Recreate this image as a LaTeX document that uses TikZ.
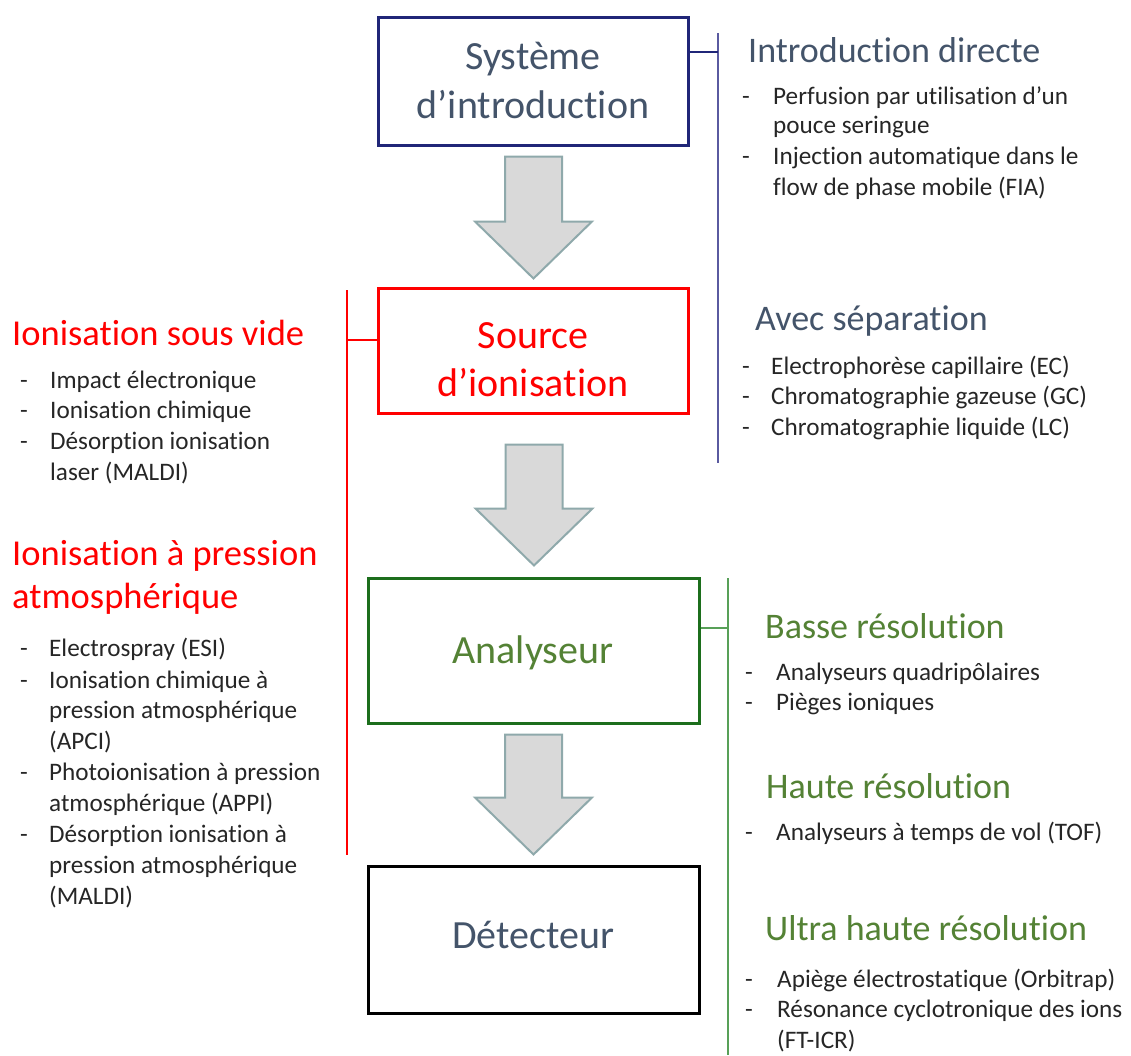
\documentclass[tikz,border=0pt]{standalone}
\usepackage{fontspec}
\setmainfont[RawFeature={-liga;-clig;-calt;-dlig}]{Carlito}
\usetikzlibrary{calc}
\definecolor{navyc}{HTML}{202678}
\definecolor{bluel}{HTML}{5A5AA0}
\definecolor{slate}{HTML}{44546A}
\definecolor{redc}{HTML}{FF0000}
\definecolor{greenbox}{HTML}{1C6E1C}
\definecolor{greent}{HTML}{548235}
\definecolor{greenl}{HTML}{58A058}
\definecolor{bulletc}{HTML}{262626}
\definecolor{arrfill}{HTML}{D9D9D9}
\definecolor{arrdraw}{HTML}{8FA9AB}
\newcommand\blockarrow[2]{%
  \draw[blk] let \p1=(#1), \p2=(#2) in
    (\x2-28.5pt,\y1) -- (\x2+28.5pt,\y1) -- (\x2+28.5pt,\y2+57pt) --
    (\x2+58.5pt,\y2+57pt) -- (\x2,\y2) -- (\x2-58.5pt,\y2+57pt) --
    (\x2-28.5pt,\y2+57pt) -- cycle;}
\begin{document}
\begin{tikzpicture}[x=1pt,y=-1pt,
  stagebox/.style={draw, line width=3pt, inner sep=0pt},
  bxt/.style={font=\fontsize{40}{48}\selectfont, text=slate, anchor=base, inner sep=0pt},
  bt/.style={font=\fontsize{25.2}{30}\selectfont, text=bulletc, anchor=base west, inner sep=0pt},
  hdr/.style={font=\fontsize{36}{43}\selectfont, anchor=base west, inner sep=0pt},
  hdl/.style={font=\fontsize{36.5}{44}\selectfont, text=redc, anchor=base west, inner sep=0pt},
  blk/.style={fill=arrfill, draw=arrdraw, line width=2pt, line join=miter},
  brk/.style={line width=1.5pt}]
\useasboundingbox (0,0) rectangle (1131,1055);

% stage boxes
\node[stagebox, draw=navyc, minimum width=310pt, minimum height=128pt] (sys) at (533,81) {};
\node[stagebox, draw=redc, minimum width=310pt, minimum height=125pt] (src) at (533,350.5) {};
\node[stagebox, draw=greenbox, minimum width=331pt, minimum height=145pt] (ana) at (533.5,650.5) {};
\node[stagebox, draw=black, minimum width=331pt, minimum height=147pt] (det) at (533.5,939.5) {};

\node[bxt] (sysa) at (533,69) {Système};
\node[bxt] (sysb) at (533,118) {d’introduction};
\node[bxt, text=redc] (srca) at (533,348) {Source};
\node[bxt, text=redc] (srcb) at (533,396) {d’ionisation};
\node[bxt, text=greent] (anat) at (533,663) {Analyseur};
\node[bxt] (dett) at (533,948) {Détecteur};

% block arrows
\coordinate (a1t) at ($(sys.south)+(0.5,10)$);
\coordinate (a1h) at ($(src.north)+(0.5,-8)$);
\coordinate (a2t) at ($(src.south)+(0.5,30)$);
\coordinate (a2h) at ($(ana.north)+(0.5,-11)$);
\coordinate (a3t) at ($(ana.south)+(0,10)$);
\coordinate (a3h) at ($(det.north)+(0,-10)$);
\blockarrow{a1t}{a1h}
\blockarrow{a2t}{a2h}
\blockarrow{a3t}{a3h}

% brackets
\coordinate (bluetop) at (718,33);
\coordinate (bluebot) at (718,463);
\coordinate (bluetick) at (718,52);
\draw[brk, bluel] (bluetop) -- (bluebot);
\draw[brk, navyc] (bluetick -| sys.east) -- (bluetick);

\coordinate (redtop) at (347,290);
\coordinate (redbot) at (347,855);
\coordinate (redtick) at (347,340);
\draw[line width=2pt, redc] (redtop) -- (redbot);
\draw[line width=2pt, redc] (redtick) -- (redtick -| src.west);

\coordinate (grtop) at (728,578);
\coordinate (grbot) at (728,1055);
\coordinate (grtick) at (728,628);
\draw[brk, greenl] (grtop) -- (grbot);
\draw[brk, greenl] (grtick -| ana.east) -- (grtick);

% right top texts
\node[hdr, text=slate] (h1) at (748,62) {Introduction directe};
\node[bt] (d1) at (742,104) {-};
\node[bt] (t1) at (773,104) {Perfusion par utilisation d’un};
\node[bt] (t2) at (773,133) {pouce seringue};
\node[bt] (d2) at (742,164) {-};
\node[bt] (t3) at (773,164) {Injection automatique dans le};
\node[bt] (t4) at (773,195) {flow de phase mobile (FIA)};
\node[hdr, text=slate] (h2) at (755,330) {Avec séparation};
\node[bt] (d3) at (742,374) {-};
\node[bt] (t5) at (771,374) {Electrophorèse capillaire (EC)};
\node[bt] (d4) at (742,404) {-};
\node[bt] (t6) at (771,404) {Chromatographie gazeuse (GC)};
\node[bt] (d5) at (742,435) {-};
\node[bt] (t7) at (771,435) {Chromatographie liquide (LC)};

% right bottom texts
\node[hdr, text=greent] (h3) at (765,638) {Basse résolution};
\node[bt] (d6) at (745,680) {-};
\node[bt] (t8) at (776,680) {Analyseurs quadripôlaires};
\node[bt] (d7) at (745,710) {-};
\node[bt] (t9) at (776,710) {Pièges ioniques};
\node[hdr, text=greent] (h4) at (766,798) {Haute résolution};
\node[bt] (d8) at (745,840) {-};
\node[bt] (t10) at (776,840) {Analyseurs à temps de vol (TOF)};
\node[hdr, text=greent] (h5) at (765,940) {Ultra haute résolution};
\node[bt] (d9) at (745,987) {-};
\node[bt] (t11) at (777,987) {Apiège électrostatique (Orbitrap)};
\node[bt] (d10) at (745,1017) {-};
\node[bt] (t12) at (777,1017) {Résonance cyclotronique des ions};
\node[bt] (t13) at (777,1048) {(FT-ICR)};

% left texts
\node[hdl] (h6) at (12,345) {Ionisation sous vide};
\node[bt] (d11) at (20,388) {-};
\node[bt] (l1) at (50,388) {Impact électronique};
\node[bt] (d12) at (20,418) {-};
\node[bt] (l2) at (50,418) {Ionisation chimique};
\node[bt] (d13) at (20,449) {-};
\node[bt] (l3) at (50,449) {Désorption ionisation};
\node[bt] (l4) at (50,480) {laser (MALDI)};
\node[hdl] (h7) at (12,565) {Ionisation à pression};
\node[hdl] (h8) at (12,608) {atmosphérique};
\node[bt] (d14) at (20,656) {-};
\node[bt] (l5) at (49,656) {Electrospray (ESI)};
\node[bt] (d15) at (20,688) {-};
\node[bt] (l6) at (49,688) {Ionisation chimique à};
\node[bt] (l7) at (49,718) {pression atmosphérique};
\node[bt] (l8) at (49,749) {(APCI)};
\node[bt] (d16) at (20,780) {-};
\node[bt] (l9) at (49,780) {Photoionisation à pression};
\node[bt] (l10) at (49,811) {atmosphérique (APPI)};
\node[bt] (d17) at (20,842) {-};
\node[bt] (l11) at (49,842) {Désorption ionisation à};
\node[bt] (l12) at (49,873) {pression atmosphérique};
\node[bt] (l13) at (49,904) {(MALDI)};
\end{tikzpicture}
\end{document}
